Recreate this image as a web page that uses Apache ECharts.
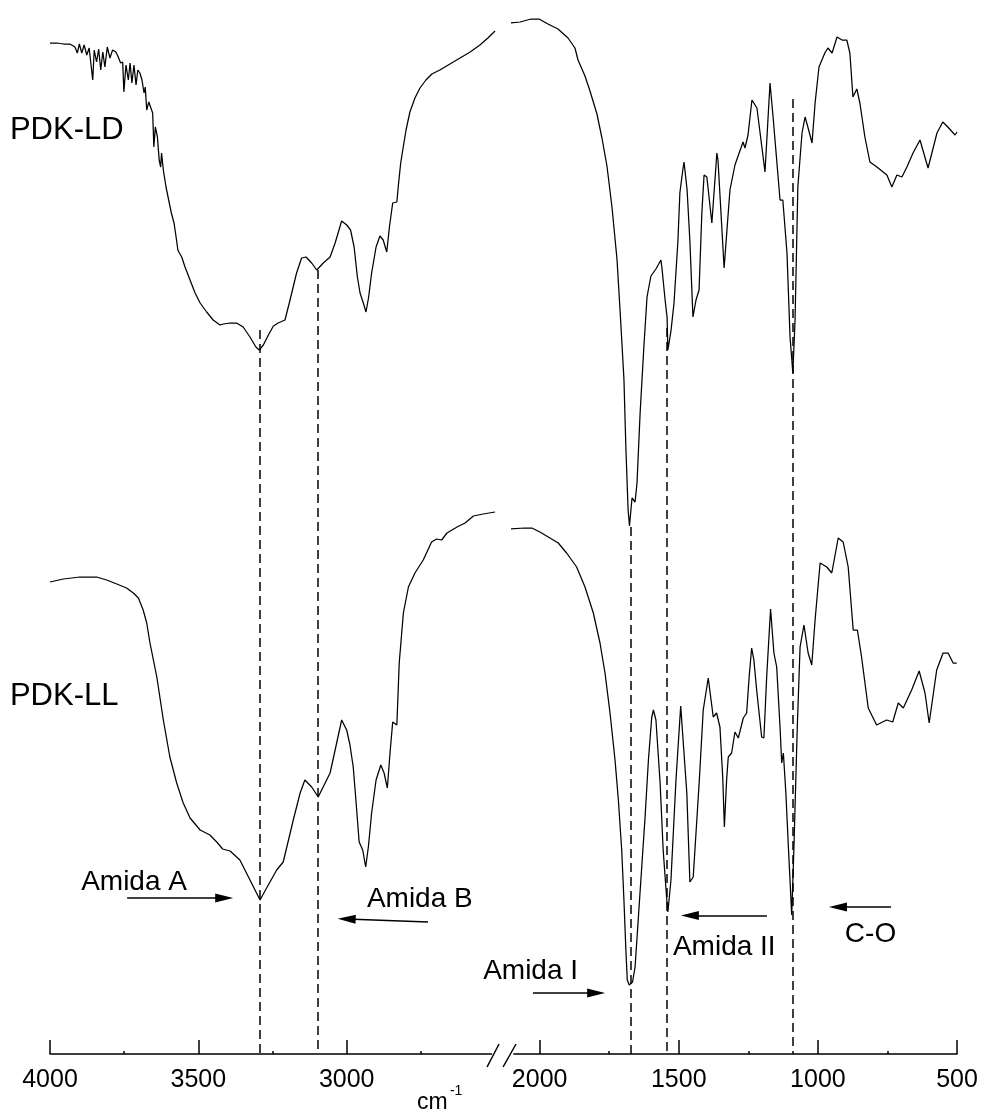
<!DOCTYPE html>
<html><head><meta charset="utf-8">
<script src="https://cdn.jsdelivr.net/npm/echarts@6/dist/echarts.min.js"></script>
<style>html,body{margin:0;padding:0;background:#fff}#c{width:981px;height:1113px}</style>
</head><body><div id="c"></div>
<script>
// wavenumber (cm-1), transmittance (arbitrary, offset traces)
const ldLeft = [[4000,101.1],[3977,101.1],[3955,101.0],[3933,101.0],[3916,100.7],[3908,100.1],[3901,101.0],[3893,100.1],[3885,100.9],[3876,99.9],[3868,100.6],[3856,97.4],[3851,100.4],[3843,99.2],[3836,100.5],[3829,98.4],[3822,100.2],[3815,98.7],[3807,100.7],[3798,99.6],[3789,100.4],[3778,100.2],[3770,99.7],[3762,99.1],[3755,99.2],[3751,96.2],[3744,98.9],[3736,97.4],[3730,99.1],[3724,97.1],[3717,98.9],[3710,96.9],[3704,98.4],[3697,98.1],[3690,97.4],[3683,96.1],[3679,96.7],[3674,94.4],[3667,95.2],[3661,95.4],[3654,94.1],[3650,90.7],[3645,92.7],[3638,91.7],[3632,89.4],[3627,88.7],[3624,90.1],[3618,88.4],[3609,86.7],[3600,85.4],[3591,84.1],[3582,83.1],[3575,81.7],[3569,80.4],[3564,80.1],[3556,79.7],[3545,78.7],[3528,77.4],[3511,76.1],[3494,75.1],[3472,74.2],[3450,73.4],[3427,72.9],[3416,73.0],[3393,73.1],[3371,73.1],[3349,72.7],[3326,71.7],[3306,70.7],[3295,70.4],[3281,70.9],[3264,71.9],[3247,72.8],[3231,73.1],[3208,73.4],[3191,75.4],[3169,78.1],[3152,79.6],[3137,79.7],[3118,79.1],[3101,78.4],[3079,79.1],[3056,79.7],[3039,81.1],[3017,83.3],[3000,82.9],[2987,82.4],[2975,80.7],[2964,77.7],[2955,76.1],[2944,75.1],[2935,74.2],[2926,75.7],[2916,78.1],[2901,80.7],[2888,81.8],[2877,81.4],[2865,80.2],[2856,82.7],[2845,85.1],[2831,85.2],[2825,87.1],[2818,89.1],[2811,90.4],[2800,92.4],[2787,94.2],[2770,95.6],[2753,96.6],[2733,97.4],[2713,98.0],[2686,98.4],[2652,99.0],[2618,99.6],[2584,100.2],[2551,100.9],[2524,101.6],[2500,102.3]];
const ldRight = [[2103,103.1],[2070,103.2],[2031,103.5],[2002,103.5],[1970,103.0],[1934,102.5],[1898,101.6],[1873,100.6],[1862,99.4],[1837,97.8],[1819,96.3],[1794,94.0],[1776,91.6],[1758,88.8],[1740,84.7],[1722,79.5],[1711,74.4],[1697,67.5],[1690,60.6],[1682,54.4],[1677,52.8],[1668,55.6],[1657,55.2],[1650,57.1],[1639,64.0],[1625,70.9],[1614,75.7],[1600,77.8],[1582,78.5],[1564,79.4],[1560,78.5],[1549,75.4],[1542,73.7],[1539,70.4],[1528,72.3],[1517,75.1],[1503,81.3],[1496,86.1],[1485,88.5],[1481,89.2],[1470,86.4],[1460,81.3],[1449,73.7],[1438,75.4],[1427,76.4],[1417,84.1],[1409,87.9],[1399,87.7],[1381,83.1],[1363,90.1],[1359,89.4],[1337,78.6],[1316,86.4],[1298,88.9],[1291,88.9],[1269,91.2],[1262,90.6],[1251,91.9],[1237,95.4],[1219,94.6],[1190,88.2],[1172,97.1],[1161,93.7],[1136,85.4],[1126,85.4],[1111,80.1],[1100,71.7],[1090,68.1],[1082,73.4],[1072,86.7],[1057,92.1],[1046,93.7],[1036,92.7],[1021,91.1],[1010,95.1],[996,98.7],[975,100.1],[964,100.6],[949,100.1],[931,101.7],[913,101.4],[896,101.4],[885,100.1],[874,95.7],[860,96.5],[849,95.1],[831,91.7],[813,89.2],[788,88.7],[752,87.9],[734,86.7],[716,87.9],[698,87.7],[680,88.7],[658,90.1],[633,91.4],[604,88.6],[572,92.1],[551,93.2],[533,92.7],[507,91.9],[500,92.2]];
const llLeft = [[4000,47.2],[3955,47.5],[3899,47.7],[3865,47.7],[3843,47.7],[3809,47.4],[3775,47.0],[3742,46.6],[3719,46.1],[3702,45.6],[3686,44.4],[3674,43.1],[3663,41.1],[3640,37.7],[3618,33.4],[3596,29.7],[3573,27.1],[3551,25.1],[3528,23.6],[3494,22.4],[3461,21.9],[3438,21.2],[3418,20.5],[3393,20.3],[3360,19.4],[3326,17.4],[3292,15.4],[3270,16.6],[3236,18.4],[3214,19.2],[3180,23.4],[3157,26.1],[3141,27.4],[3118,26.7],[3096,25.7],[3056,28.1],[3039,30.4],[3017,33.4],[3000,32.4],[2989,30.9],[2978,28.7],[2969,25.4],[2958,21.2],[2946,20.4],[2936,18.7],[2927,20.7],[2916,24.1],[2901,27.4],[2885,28.9],[2874,28.1],[2863,26.6],[2854,30.1],[2845,33.2],[2831,32.9],[2823,39.1],[2809,44.1],[2792,46.7],[2770,48.1],[2742,49.4],[2714,51.2],[2697,51.5],[2680,51.4],[2662,52.1],[2628,52.7],[2601,53.1],[2573,53.8],[2540,54.0],[2500,54.2]];
const llRight = [[2106,52.5],[2053,52.6],[2028,52.6],[1999,52.2],[1963,51.6],[1933,51.1],[1903,50.1],[1867,48.7],[1837,46.7],[1807,44.1],[1783,41.1],[1765,38.1],[1747,34.1],[1729,29.4],[1717,25.4],[1705,20.4],[1697,15.4],[1690,10.4],[1685,7.4],[1678,6.9],[1666,7.2],[1657,8.7],[1645,13.7],[1633,18.7],[1621,23.7],[1609,29.4],[1597,33.7],[1591,34.4],[1582,33.4],[1567,27.1],[1556,20.4],[1543,15.4],[1539,14.2],[1528,17.4],[1510,27.4],[1493,34.8],[1471,26.1],[1460,17.2],[1448,17.7],[1426,27.4],[1412,34.4],[1394,37.6],[1376,33.7],[1364,34.1],[1352,32.7],[1342,27.7],[1336,22.7],[1328,27.4],[1322,29.7],[1310,30.1],[1298,32.2],[1286,31.6],[1268,33.6],[1256,34.1],[1247,37.7],[1238,40.6],[1230,39.4],[1220,36.4],[1202,31.7],[1194,31.6],[1184,37.7],[1170,44.5],[1158,40.1],[1148,38.7],[1136,32.7],[1130,29.1],[1124,30.1],[1115,26.1],[1106,20.7],[1094,13.9],[1086,20.7],[1074,32.7],[1064,40.7],[1050,42.9],[1035,40.1],[1022,38.9],[1010,43.4],[992,49.1],[968,48.7],[950,48.1],[927,51.6],[909,51.2],[891,48.7],[873,42.4],[858,42.4],[843,39.7],[819,34.6],[789,32.9],[753,33.4],[731,33.2],[711,35.1],[693,34.6],[663,36.4],[636,38.3],[615,36.1],[600,33.1],[573,38.4],[550,40.1],[532,40.1],[514,39.1],[501,39.1]];

// band positions: [grid, wavenumber, top of dashed line]
const bandLines = [[0,3292,72.4],[0,3097,78.4],[1,1672,52.7],[1,1543,72.6],[1,1089,95.5]];
// arrows: [grid, fromWn, fromV, toWn, toV]
const arrows = [[0,3740,15.6,3413,15.6],[0,2726,13.2,3000,13.5],[1,2024,6.1,1797,6.1],[1,1183,13.85,1460,13.85],[1,737,14.7,928,14.7]];
// text labels: [grid, text, wn (left edge), value (middle), font size]
const labels = [[0,'PDK-LD',4135,92.35,31],[0,'PDK-LL',4135,35.75,31],[0,'Amida A',3895,17.15,28],[0,'Amida B',2932,15.45,28],[1,'Amida I',2203,8.3,28],[1,'Amida II',1521,10.65,28],[1,'C-O',903,11.95,28]];
const leftRange = [2500, 4000];
const rightRange = [500, 2100];
const FONT = '"Liberation Sans", Arial, sans-serif';

function markLineFor(g){
  const data = [];
  bandLines.filter(b=>b[0]===g).forEach(b=>{
    data.push([{coord:[b[1],b[2]]},{coord:[b[1],0]}]);
  });
  arrows.filter(a=>a[0]===g).forEach(a=>{
    data.push([{coord:[a[1],a[2]], lineStyle:{type:'solid', width:1.5}},{coord:[a[3],a[4]], symbol:'triangle', symbolSize:[9,18]}]);
  });
  return {silent:true, animation:false, symbol:'none', label:{show:false},
    lineStyle:{color:'#000', width:1.5, type:[9,5]}, emphasis:{disabled:true}, data};
}
function mainAxis(g, range){
  return {type:'value', gridIndex:g, position:'bottom', min:range[0], max:range[1], interval:500, inverse:true,
    axisLine:{show:true, lineStyle:{color:'#000', width:1.5}},
    axisTick:{show:true, inside:true, length:14, lineStyle:{color:'#000', width:1.5}},
    splitLine:{show:false},
    axisLabel:{show:true, color:'#000', fontSize:25, fontFamily:FONT, margin:14,
      formatter: v => (v===range[0]&&g===0)||(v===range[1]&&g===1) ? '' : String(v)}};
}
function minorAxis(g, range){
  return {type:'value', gridIndex:g, position:'bottom', min:range[0], max:range[1], interval:250, inverse:true,
    axisLine:{show:false}, axisLabel:{show:false}, splitLine:{show:false},
    axisTick:{show:true, inside:true, length:3, lineStyle:{color:'#000', width:1.5}}};
}
function lineSeries(name, g, data, withMarks){
  const s = {name, type:'line', xAxisIndex:g, yAxisIndex:g, data, symbol:'none', clip:false,
    animation:false, silent:true, lineStyle:{color:'#000', width:1.25}};
  if (withMarks) s.markLine = markLineFor(g);
  return s;
}
const option = {
  animation:false,
  backgroundColor:'#fff',
  grid:[{left:50, top:14, width:445.05, height:1040},{left:511.8, top:14, width:445.2, height:1040}],
  xAxis:[mainAxis(0,leftRange), mainAxis(1,rightRange), minorAxis(0,leftRange), minorAxis(1,rightRange)],
  yAxis:[{type:'value', gridIndex:0, min:0, max:104, show:false},{type:'value', gridIndex:1, min:0, max:104, show:false}],
  series:[lineSeries('PDK-LD',0,ldLeft,false), lineSeries('PDK-LD',1,ldRight,false),
          lineSeries('PDK-LL',0,llLeft,true), lineSeries('PDK-LL',1,llRight,true)]
};
const chart = echarts.init(document.getElementById('c'), null, {renderer:'canvas'});
chart.setOption(option);
function px(g, wn, v){ return chart.convertToPixel({xAxisIndex:g, yAxisIndex:g}, [wn, v]); }
const gr = [];
labels.forEach(l=>{
  const p = px(l[0], l[2], l[3]);
  gr.push({type:'text', x:p[0], y:p[1], z:100, silent:true,
    style:{text:l[1], font:l[4]+'px '+FONT, fill:'#000', align:'left', verticalAlign:'middle'}});
});
// axis unit
const cm = px(0, 2763, -4.9), sup = px(0, 2652, -3.7);
gr.push({type:'text', x:cm[0], y:cm[1], z:100, silent:true, style:{text:'cm', font:'23px '+FONT, fill:'#000', align:'left', verticalAlign:'middle'}});
gr.push({type:'text', x:sup[0], y:sup[1], z:100, silent:true, style:{text:'-1', font:'14px '+FONT, fill:'#000', align:'left', verticalAlign:'middle'}});
// axis break
const a = px(0, leftRange[0], 0), b = px(1, rightRange[1], 0);
gr.push({type:'rect', z:100, silent:true, shape:{x:a[0]-3, y:a[1]-18, width:(b[0]+1.5)-(a[0]-3), height:24}, style:{fill:'#fff'}});
gr.push({type:'line', z:101, silent:true, shape:{x1:a[0]-8, y1:a[1]+13, x2:a[0]+4, y2:a[1]-10}, style:{stroke:'#000', lineWidth:1.5}});
gr.push({type:'line', z:101, silent:true, shape:{x1:a[0]+8, y1:a[1]+13, x2:a[0]+21, y2:a[1]-10}, style:{stroke:'#000', lineWidth:1.5}});
chart.setOption({graphic:gr});
</script>
</body></html>
